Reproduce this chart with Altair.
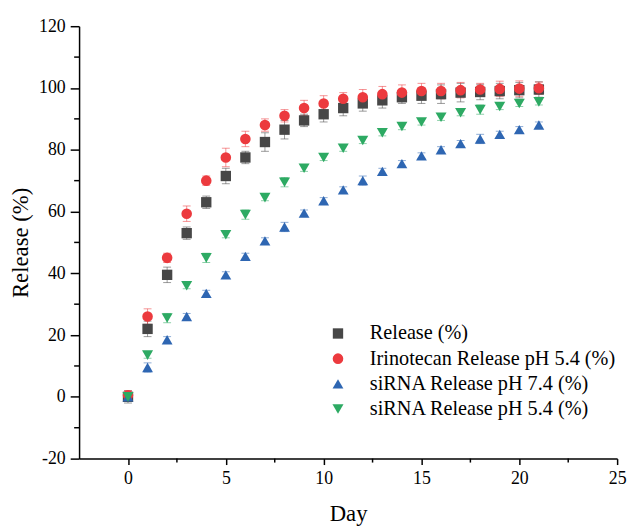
import altair as alt
import pandas as pd

days = list(range(0, 22))
series_names = ["Release (%)", "Irinotecan Release pH 5.4 (%)", "siRNA Release pH 7.4 (%)", "siRNA Release pH 5.4 (%)"]

release = [0, 22, 39.5, 53, 63, 71.5, 77.5, 82.5, 86.5, 89.5, 91.5, 93.5, 95, 96, 97, 97.5, 98, 98.5, 98.7, 99, 99.3, 99.5]
release_err = [2, 2.5, 2.5, 2, 2, 2.5, 2, 3, 3, 2, 2.5, 2.5, 2.5, 2.5, 2, 2.5, 3, 3, 2.5, 2.5, 2.5, 2.5]
irino = [0.5, 26, 45, 59.3, 70, 77.5, 83.5, 88, 91, 93.5, 95, 96.5, 97, 98, 98.5, 99, 99, 99.3, 99.5, 99.7, 99.8, 99.9]
irino_err = [1.5, 2.5, 1.5, 2.5, 1.5, 3, 2.5, 2, 2, 2.5, 2.5, 2, 2.5, 2.5, 2.5, 2.5, 2.5, 2.5, 2, 2.5, 2.5, 2]
sirna74 = [0, 9.5, 18.5, 26, 33.5, 39.5, 45.5, 50.5, 55, 59.5, 63.5, 67, 70, 73, 75.5, 78, 80, 82, 83.5, 85, 86.5, 88]
sirna74_err = [1, 1.5, 1, 1, 1, 1, 1, 1, 1.5, 1, 1, 1, 1.5, 1, 1, 1, 1, 1, 1.5, 1, 1, 1]
sirna54 = [0, 13.5, 25.5, 36, 45, 52.5, 59, 64.5, 69.5, 74, 77.5, 80.5, 83, 85.5, 87.5, 89, 90.5, 92, 93, 94, 95, 95.5]
sirna54_err = [1, 1, 1.5, 1, 1.5, 1, 1.5, 1, 1.5, 1, 1, 1, 1, 1, 1, 1, 1, 1, 1.5, 1, 1, 1]

x_minor = [2.5, 7.5, 12.5, 17.5, 22.5]
y_minor = [-10, 10, 30, 50, 70, 90, 110]

colors = ["#474747", "#EC3A3E", "#2E66B2", "#2DAA63"]
shapes = ["square", "circle", "triangle-up", "triangle-down"]
sizes = [110, 125, 160, 160]

rows = []
for name, vals, errs in zip(series_names, [release, irino, sirna74, sirna54],
                            [release_err, irino_err, sirna74_err, sirna54_err]):
    for d, v, e in zip(days, vals, errs):
        rows.append({"Day": d, "Value": v, "lo": v - e, "hi": v + e, "Series": name})
df = pd.DataFrame(rows)

FONT = "Liberation Serif"
W, H = 545, 438

xscale = alt.Scale(domain=[-2.5, 25], nice=False, zero=False)
yscale = alt.Scale(domain=[-20, 120], nice=False, zero=False)
cscale = alt.Scale(domain=series_names, range=colors)
sscale = alt.Scale(domain=series_names, range=shapes)
zscale = alt.Scale(domain=series_names, range=sizes)

legend = alt.Legend(title=None, orient="none", legendX=252, legendY=301,
                    labelFontSize=20.5, labelFont=FONT, labelFontWeight="normal",
                    labelColor="black", rowPadding=4.5, labelOffset=22, labelLimit=0)

base = alt.Chart(df)

layers = []
for name, col in zip(series_names, colors):
    sub = base.transform_filter(alt.datum.Series == name)
    layers.append(sub.mark_rule(strokeWidth=1, opacity=0.55, color=col).encode(
        x=alt.X("Day:Q", scale=xscale),
        y=alt.Y("lo:Q", scale=yscale),
        y2="hi:Q",
    ))
    for fld in ["lo", "hi"]:
        layers.append(sub.mark_tick(thickness=1, size=8, orient="horizontal",
                                    opacity=0.55, color=col).encode(
            x=alt.X("Day:Q", scale=xscale),
            y=alt.Y(f"{fld}:Q", scale=yscale),
        ))

points = base.mark_point(filled=True, opacity=1).encode(
    x=alt.X("Day:Q", scale=xscale,
            axis=alt.Axis(title="Day", values=[0, 5, 10, 15, 20, 25], tickSize=6,
                          labelPadding=5, titlePadding=16, grid=False)),
    y=alt.Y("Value:Q", scale=yscale,
            axis=alt.Axis(title="Release (%)", values=list(range(-20, 121, 20)), tickSize=9,
                          labelPadding=5, titlePadding=6, grid=False,
                          labelExpr="datum.value + ''")),
    color=alt.Color("Series:N", scale=cscale, legend=legend),
    shape=alt.Shape("Series:N", scale=sscale, legend=legend),
    size=alt.Size("Series:N", scale=zscale, legend=legend),
)
layers.append(points)

xminor_df = pd.DataFrame({"v": x_minor})
yminor_df = pd.DataFrame({"v": y_minor})
layers.append(alt.Chart(xminor_df).mark_rule(color="black", strokeWidth=1.5).encode(
    x=alt.X("v:Q", scale=xscale),
    y=alt.value(H), y2=alt.value(H + 4),
))
layers.append(alt.Chart(yminor_df).mark_rule(color="black", strokeWidth=1.5).encode(
    y=alt.Y("v:Q", scale=yscale),
    x=alt.value(-5), x2=alt.value(0),
))

chart = alt.layer(*layers).properties(
    width=W, height=H,
    autosize=alt.AutoSizeParams(type="none"),
    padding={"left": 72, "top": 15, "right": 10, "bottom": 80},
).configure_view(stroke=None).configure_axis(
    domainColor="black", domainWidth=1.5, tickColor="black", tickWidth=1.5,
    labelFont=FONT, labelFontSize=18, labelColor="black",
    titleFont=FONT, titleFontSize=23, titleFontWeight="normal", titleColor="black",
).configure_axisX(labelFlush=False).configure_axisY(labelFlush=False)

chart.save("out.html", embed_options={"renderer": "svg", "actions": False})
